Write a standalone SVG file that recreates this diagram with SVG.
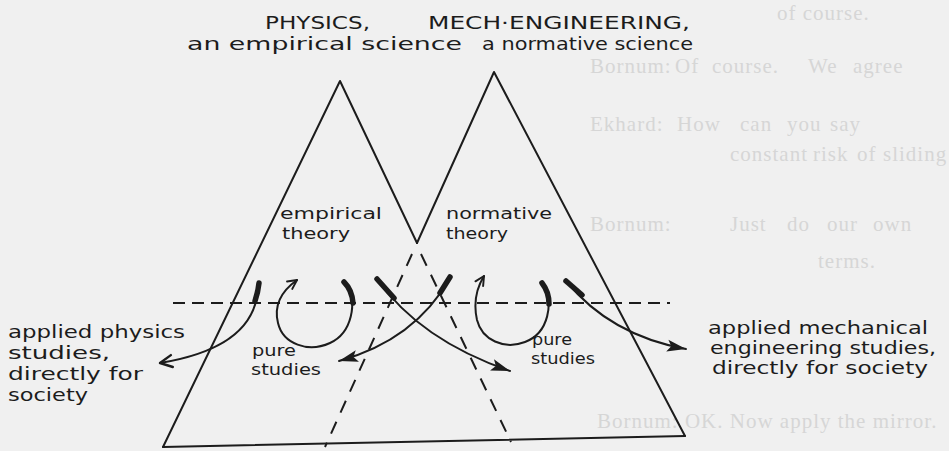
<svg xmlns="http://www.w3.org/2000/svg" width="949" height="451" viewBox="0 0 949 451">
<style>
.ln{fill:none;stroke:#1c1c1c;stroke-width:2;stroke-linecap:round;stroke-linejoin:round}
.dash{stroke-dasharray:12 7;stroke-linecap:butt}
.dashd{stroke-dasharray:13 10;stroke-linecap:butt}
.thick{stroke-width:5.5}
.hw{font-family:"DejaVu Sans","Liberation Sans",sans-serif;font-size:18px;fill:#1c1c1c}
.sm{font-size:16px}
.bleed{font-family:"Liberation Serif",serif;font-size:21px;letter-spacing:1px;fill:#d6d6d6}
</style>
<defs>
<marker id="open" viewBox="0 0 16 16" refX="14" refY="8" markerWidth="16" markerHeight="16" markerUnits="userSpaceOnUse" orient="auto"><path d="M2,2 L14,8 L2,14" fill="none" stroke="#1c1c1c" stroke-width="2.4" stroke-linecap="round" stroke-linejoin="round"/></marker>
<marker id="openS" viewBox="0 0 16 16" refX="14" refY="8" markerWidth="12" markerHeight="12" markerUnits="userSpaceOnUse" orient="auto"><path d="M2,2 L14,8 L2,14" fill="none" stroke="#1c1c1c" stroke-width="2.6" stroke-linecap="round" stroke-linejoin="round"/></marker>
<marker id="solid" viewBox="0 0 20 14" refX="19" refY="7" markerWidth="20" markerHeight="14" markerUnits="userSpaceOnUse" orient="auto"><path d="M0,1 L19,7 L0,13 L4,7 Z" fill="#1c1c1c"/></marker>
</defs>
<rect width="949" height="451" fill="#f0f0f0"/>
<g id="bleed-through">
<text class="bleed" x="777" y="20">of course.</text>
<text class="bleed" y="73"><tspan x="590">Bornum:</tspan><tspan x="675">Of</tspan><tspan x="712">course.</tspan><tspan x="808">We</tspan><tspan x="853">agree</tspan></text>
<text class="bleed" y="131"><tspan x="590">Ekhard:</tspan><tspan x="677">How</tspan><tspan x="740">can</tspan><tspan x="787">you</tspan><tspan x="830">say</tspan></text>
<text class="bleed" y="161"><tspan x="730">constant</tspan><tspan x="813">risk</tspan><tspan x="857">of</tspan><tspan x="883">sliding</tspan></text>
<text class="bleed" y="231"><tspan x="590">Bornum:</tspan><tspan x="730">Just</tspan><tspan x="787">do</tspan><tspan x="827">our</tspan><tspan x="873">own</tspan></text>
<text class="bleed" x="818" y="268">terms.</text>
<text class="bleed" x="597" y="428">Bornum: OK. Now apply the mirror.</text>
</g>
<g id="title-physics">
<text class="hw" x="265" y="29" textLength="105" lengthAdjust="spacingAndGlyphs">PHYSICS,</text>
<text class="hw" x="187" y="50" textLength="275" lengthAdjust="spacingAndGlyphs">an empirical science</text>
</g>
<g id="title-mech">
<text class="hw" x="428" y="29" textLength="262" lengthAdjust="spacingAndGlyphs">MECH·ENGINEERING,</text>
<text class="hw" x="482" y="50" textLength="211" lengthAdjust="spacingAndGlyphs">a normative science</text>
</g>
<g id="triangle-physics">
<path class="ln" d="M163,447 L340,81 L417,243"/>
<path class="ln dashd" d="M421,254 L511,442"/>
</g>
<g id="triangle-mech">
<path class="ln" d="M417,243 L494,72 L685,436"/>
<path class="ln dashd" d="M412,254 L325,447"/>
<path class="ln" d="M163,447 L685,436"/>
</g>
<g id="empirical-theory"><text class="hw sm" x="280" y="219" textLength="102" lengthAdjust="spacingAndGlyphs">empirical</text><text class="hw sm" x="282" y="239" textLength="68" lengthAdjust="spacingAndGlyphs">theory</text></g>
<g id="normative-theory"><text class="hw sm" x="446" y="219" textLength="106" lengthAdjust="spacingAndGlyphs">normative</text><text class="hw sm" x="446" y="239" textLength="62" lengthAdjust="spacingAndGlyphs">theory</text></g>
<g id="pure-studies-physics"><text class="hw sm" x="252" y="356" textLength="44" lengthAdjust="spacingAndGlyphs">pure</text><text class="hw sm" x="251" y="375" textLength="70" lengthAdjust="spacingAndGlyphs">studies</text></g>
<g id="pure-studies-mech"><text class="hw sm" x="532" y="345" textLength="40" lengthAdjust="spacingAndGlyphs">pure</text><text class="hw sm" x="531" y="364" textLength="64" lengthAdjust="spacingAndGlyphs">studies</text></g>
<g id="applied-physics">
<text class="hw" x="8" y="338" textLength="177" lengthAdjust="spacingAndGlyphs">applied physics</text>
<text class="hw" x="8" y="359" textLength="102" lengthAdjust="spacingAndGlyphs">studies,</text>
<text class="hw" x="8" y="380" textLength="135" lengthAdjust="spacingAndGlyphs">directly for</text>
<text class="hw" x="8" y="401" textLength="80" lengthAdjust="spacingAndGlyphs">society</text>
</g>
<g id="applied-mech">
<text class="hw" x="708" y="334" textLength="220" lengthAdjust="spacingAndGlyphs">applied mechanical</text>
<text class="hw" x="710" y="354" textLength="226" lengthAdjust="spacingAndGlyphs">engineering studies,</text>
<text class="hw" x="712" y="374" textLength="216" lengthAdjust="spacingAndGlyphs">directly for society</text>
</g>
<g id="connectors">
<path class="ln dash" d="M173,303 L670,303"/>
<path class="ln thick" d="M259,283 Q258,292 255,301"/>
<path class="ln" d="M258,286 C257,332 215,354 160,363" marker-end="url(#open)"/>
<path class="ln thick" d="M344,282 Q352,290 353,303"/>
<path class="ln" d="M346,284 C358,302 352,333 330,343 C308,353 283,344 278,323 C273,303 283,290 297,280" marker-end="url(#openS)"/>
<path class="ln thick" d="M377,279 L394,298"/>
<path class="ln" d="M377,279 Q420,340 510,371" marker-end="url(#solid)"/>
<path class="ln thick" d="M450,277 L440,293"/>
<path class="ln" d="M450,278 Q415,340 339,361" marker-end="url(#solid)"/>
<path class="ln thick" d="M542,283 Q549,292 549,304"/>
<path class="ln" d="M543,284 C554,302 549,333 525,342 C504,350 482,340 477,320 C473,302 476,289 484,276" marker-end="url(#openS)"/>
<path class="ln thick" d="M566,281 L582,295"/>
<path class="ln" d="M567,282 Q610,335 686,349" marker-end="url(#solid)"/>
</g>
</svg>
